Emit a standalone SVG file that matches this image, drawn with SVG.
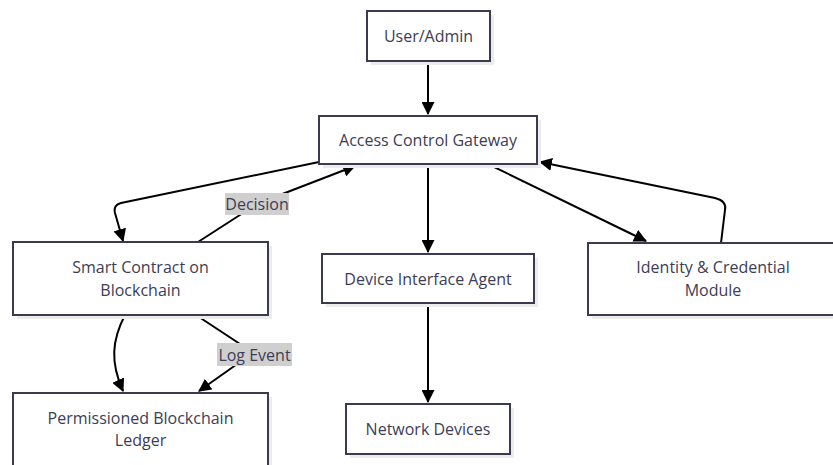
<svg xmlns="http://www.w3.org/2000/svg" width="833" height="465" viewBox="0 0 833 465">
<style>
.box{fill:#ffffff;stroke:#3a3a50;stroke-width:2}
.sh{fill:#ececec}
.t{font-family:"Open Sans","Noto Sans",sans-serif;font-size:16px;fill:#3d3d55;text-anchor:middle;dominant-baseline:central}
.e{fill:none;stroke:#000;stroke-width:2}
.lb{fill:#cfcfcf}
</style>
<defs>
<marker id="ah" viewBox="0 0 12 12" refX="11" refY="6" markerWidth="13" markerHeight="13" markerUnits="userSpaceOnUse" orient="auto">
<path d="M0,0 L12,6 L0,12 z" fill="#000"/>
</marker>
</defs>
<rect width="833" height="465" fill="#ffffff"/>
<g id="connectors">
<path class="e" d="M428,61 L428,114" marker-end="url(#ah)"/>
<path class="e" d="M319,162 L121,203 Q113,205 115,213 L123,241" marker-end="url(#ah)"/>
<path class="e" d="M198,242 L243,213 Q257,204 272,198 L355,166" marker-end="url(#ah)"/>
<path class="e" d="M428,164 L428,252" marker-end="url(#ah)"/>
<path class="e" d="M490,165 L646,241" marker-end="url(#ah)"/>
<path class="e" d="M721,243 L725,210 Q727,201 715,198 L540,162" marker-end="url(#ah)"/>
<path class="e" d="M428,303 L428,402" marker-end="url(#ah)"/>
<path class="e" d="M125,315 C112,340 110,362 123,391" marker-end="url(#ah)"/>
<path class="e" d="M196,315 L240,344 Q252,353 240,362 L199,391" marker-end="url(#ah)"/>
<rect class="lb" x="225" y="193" width="64" height="22"/>
<text class="t" x="257" y="204">Decision</text>
<rect class="lb" x="217" y="343" width="75" height="23"/>
<text class="t" x="254.5" y="354.5">Log Event</text>
</g>
<g id="user">
<rect class="sh" x="371" y="15" width="123" height="50"/>
<rect class="box" x="367" y="11" width="123" height="50"/>
<text class="t" x="428.5" y="36">User/Admin</text>
</g>
<g id="gateway">
<rect class="sh" x="323" y="120" width="218" height="48"/>
<rect class="box" x="319" y="116" width="218" height="48"/>
<text class="t" x="428" y="140">Access Control Gateway</text>
</g>
<g id="smart">
<rect class="sh" x="17" y="246" width="255" height="73"/>
<rect class="box" x="13" y="242" width="255" height="73"/>
<text class="t" x="140.5" y="267">Smart Contract on</text>
<text class="t" x="140.5" y="290">Blockchain</text>
</g>
<g id="device">
<rect class="sh" x="326" y="258" width="212" height="49"/>
<rect class="box" x="322" y="254" width="212" height="49"/>
<text class="t" x="428" y="279">Device Interface Agent</text>
</g>
<g id="identity">
<rect class="sh" x="592" y="247" width="250" height="72"/>
<rect class="box" x="588" y="243" width="250" height="72"/>
<text class="t" x="713" y="267">Identity &amp; Credential</text>
<text class="t" x="713" y="290">Module</text>
</g>
<g id="ledger">
<rect class="sh" x="17" y="397" width="255" height="73"/>
<rect class="box" x="13" y="393" width="255" height="73"/>
<text class="t" x="140.5" y="418">Permissioned Blockchain</text>
<text class="t" x="140.5" y="440">Ledger</text>
</g>
<g id="network">
<rect class="sh" x="350" y="408" width="164" height="50"/>
<rect class="box" x="346" y="404" width="164" height="50"/>
<text class="t" x="428" y="429">Network Devices</text>
</g>
</svg>
